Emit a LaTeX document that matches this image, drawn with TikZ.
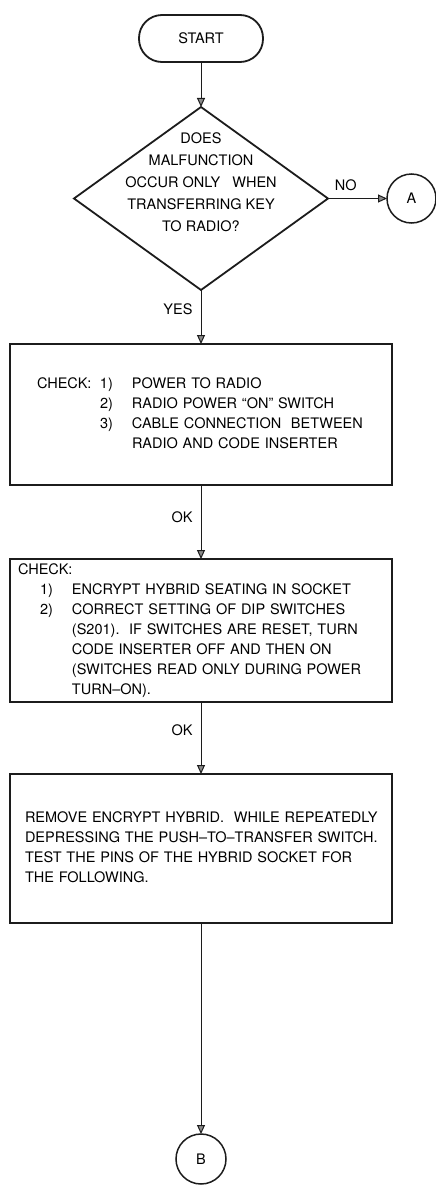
\documentclass[tikz,border=0pt]{standalone}
\usepackage{fontspec}
\setmainfont{TeX Gyre Heros}
\usetikzlibrary{positioning,arrows.meta,shapes.geometric}
\definecolor{tinta}{HTML}{1c1c1c}
\definecolor{ponta}{HTML}{8a8a8a}

\begin{document}
\begin{tikzpicture}[x=1pt, y=-1pt,
  font=\fontsize{14.5}{20}\selectfont,
  caixa/.style={draw=tinta, line width=1.8pt, inner ysep=0pt, align=left, outer sep=0pt},
  terminal/.style={draw=tinta, line width=1.8pt, rounded corners=23pt, minimum width=124pt, minimum height=47pt, outer sep=0pt},
  decisao/.style={diamond, draw=tinta, line width=1.8pt, minimum width=254pt, minimum height=183pt, inner sep=0pt, outer sep=0pt},
  conector/.style={circle, draw=tinta, line width=1.5pt, inner sep=0pt, outer sep=0pt},
  seta/.style={-{Triangle[length=9pt, width=8pt, fill=ponta]}, line width=1pt, draw=tinta},
  rotulo/.style={inner sep=2pt},
  node distance=45pt]
\useasboundingbox (0,0) rectangle (436,1186);
% ---- inicio e pergunta
\node[terminal] (start) at (201,38.5) {START};
\node[decisao, below=45pt of start] (q) {};
\node[font=\fontsize{14.5}{22}\selectfont, align=center] (qtxt) at ([yshift=16pt]q.center)
  {DOES\\MALFUNCTION\\OCCUR ONLY\ \ \ WHEN\\TRANSFERRING KEY\\TO RADIO?};
\node[conector, minimum size=49pt, right=59pt of q] (a) {A};
% ---- verificacoes
\node[caixa, below=54pt of q, inner xsep=27pt, text width=328pt, minimum height=141pt] (c1) {%
  \begin{tabular}{@{}p{63pt}@{}p{32pt}@{}l@{}}
  CHECK: & 1) & POWER TO RADIO\\
         & 2) & RADIO POWER ``ON'' SWITCH\\
         & 3) & CABLE CONNECTION\ \ BETWEEN\\
         &    & RADIO AND CODE INSERTER
  \end{tabular}};
\node[caixa, below=74pt of c1, inner xsep=8pt, text width=366pt, minimum height=143pt] (c2) {%
  \begin{tabular}{@{}p{22pt}@{}p{32pt}@{}l@{}}
  \multicolumn{3}{@{}l@{}}{CHECK:}\\
   & 1) & ENCRYPT HYBRID SEATING IN SOCKET\\
   & 2) & CORRECT SETTING OF DIP SWITCHES\\
   &    & (S201).\ \ IF SWITCHES ARE RESET, TURN\\
   &    & CODE INSERTER OFF AND THEN ON\\
   &    & (SWITCHES READ ONLY DURING POWER\\
   &    & TURN--ON).
  \end{tabular}};
\node[caixa, below=72pt of c2, inner xsep=15pt, text width=352pt, minimum height=149pt] (c3) {%
  \begin{tabular}{@{}l@{}}
  REMOVE ENCRYPT HYBRID.\ \ WHILE REPEATEDLY\\
  DEPRESSING THE PUSH--TO--TRANSFER SWITCH.\\
  TEST THE PINS OF THE HYBRID SOCKET FOR\\
  THE FOLLOWING.
  \end{tabular}};
\node[conector, minimum size=50pt, below=211pt of c3] (b) {B};
% ---- setas
\draw[seta] (start) -- (q);
\draw[seta] (q) -- node[rotulo, above=5pt, pos=0.3] (lno) {NO} (a);
\draw[seta] (q) -- node[rotulo, left=6pt, pos=0.35] (lyes) {YES} (c1);
\draw[seta] (c1) -- node[rotulo, left=6pt, pos=0.43] (lok1) {OK} (c2);
\draw[seta] (c2) -- node[rotulo, left=6pt, pos=0.39] (lok2) {OK} (c3);
\draw[seta] (c3) -- (b);
\end{tikzpicture}
\end{document}
